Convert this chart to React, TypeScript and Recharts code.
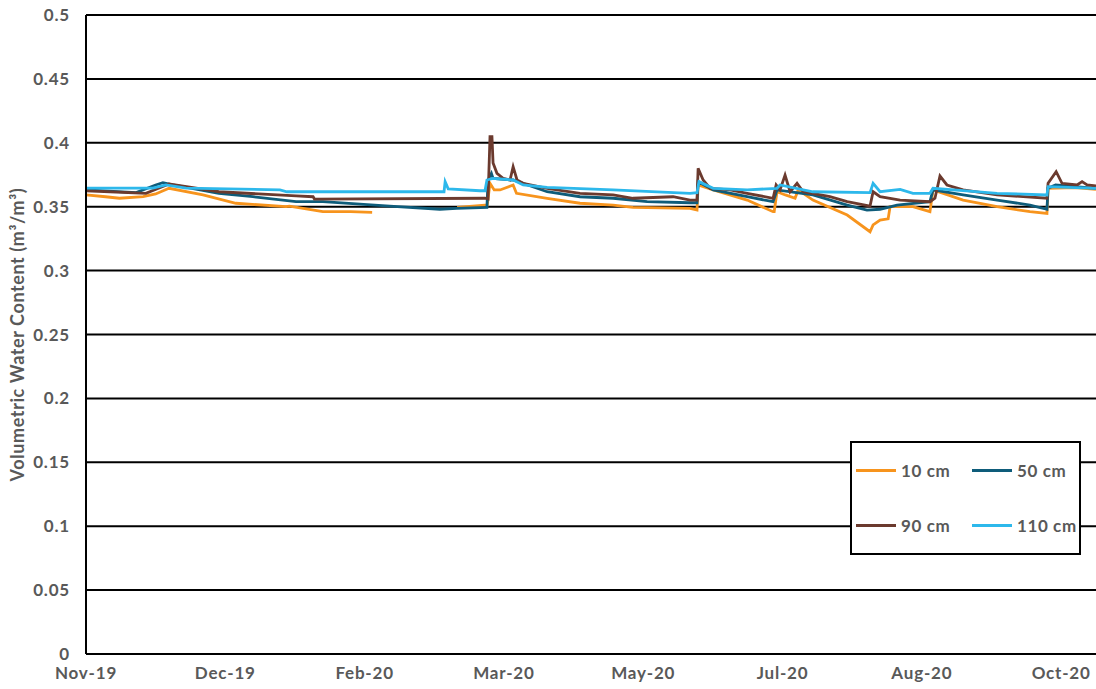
import React from 'react';
import { LineChart, Line, XAxis, YAxis, CartesianGrid, Legend } from 'recharts';

// x = days since 1 Nov 2019
const xTickDays = [0, 50, 100, 150, 200, 250, 300, 350];
const xTickLabels = ['Nov-19', 'Dec-19', 'Feb-20', 'Mar-20', 'May-20', 'Jul-20', 'Aug-20', 'Oct-20'];
const yTicks = [0, 0.05, 0.1, 0.15, 0.2, 0.25, 0.3, 0.35, 0.4, 0.45, 0.5];

const seriesNames = ['10 cm', '50 cm', '90 cm', '110 cm'];
const seriesColors = ['#F7941D', '#0E5C7A', '#6B3A2E', '#2DB8EB'];

const days10 = [0, 7, 12, 20.5, 25, 29.8, 42, 53.8, 71.8, 73, 85, 95, 102.7, 118, 133.2, 143.2, 144, 145, 146.5, 148.6, 153.3, 154.5, 165.5, 177.3, 189.2, 196.3, 216.8, 219.3, 219.7, 225.1, 237.3, 246.6, 247, 248, 251, 254.5, 255.6, 260.9, 273.2, 281.4, 282.5, 285, 287.9, 288.6, 296.8, 302.9, 304, 314.8, 327, 338.8, 344.9, 345.3, 355, 362.5];
const vals10 = [0.3592, 0.3578, 0.3566, 0.3578, 0.36, 0.3644, 0.3592, 0.3527, 0.35, 0.3505, 0.3461, 0.3461, 0.3456, null, 0.3495, 0.3513, 0.3513, 0.3683, 0.3631, 0.3631, 0.367, 0.3605, 0.3566, 0.3527, 0.3513, 0.3495, 0.3487, 0.3474, 0.367, 0.3631, 0.3552, 0.3461, 0.3461, 0.3617, 0.3592, 0.3566, 0.3631, 0.3552, 0.3435, 0.3304, 0.3357, 0.3396, 0.3405, 0.35, 0.35, 0.3461, 0.3631, 0.3552, 0.35, 0.3461, 0.3448, 0.3644, 0.365, 0.3636];

const days50 = [0, 18, 25, 27.6, 31.2, 47.7, 59.9, 75.4, 85, 109, 127, 133, 143.9, 144.3, 145.5, 146.1, 153.3, 165.5, 177.3, 189.2, 201.4, 216.8, 219.3, 219.7, 225.1, 237.3, 246.6, 248, 255, 260.9, 273.2, 280.3, 285, 291.1, 302.9, 304, 314.8, 327, 338.8, 344.9, 345.3, 348, 362.5];
const vals50 = [0.3631, 0.361, 0.367, 0.3688, 0.367, 0.3605, 0.3578, 0.3539, 0.3539, 0.3505, 0.348, 0.3487, 0.3495, 0.3709, 0.3761, 0.3722, 0.3709, 0.3617, 0.3578, 0.3566, 0.3539, 0.3531, 0.3531, 0.3696, 0.3631, 0.3578, 0.3539, 0.3631, 0.361, 0.3592, 0.3513, 0.3474, 0.348, 0.3513, 0.3539, 0.3631, 0.3592, 0.3552, 0.3513, 0.348, 0.3644, 0.367, 0.3644];

const days90 = [0, 21.5, 29.8, 47.7, 75.4, 81.5, 82, 143.2, 144.3, 145, 145.7, 146.1, 147.5, 149.7, 152.2, 153.3, 154.7, 156.9, 165.5, 177.3, 189.2, 196.3, 210.7, 216.8, 219.3, 219.7, 221.5, 224, 231.2, 237.3, 246.6, 247.7, 249.1, 250.9, 252.7, 255.2, 257.4, 267, 273.2, 281.4, 282.5, 285, 292.2, 302.9, 304.7, 306.5, 309, 314.8, 327, 344.9, 345.3, 348.2, 350.3, 355.7, 357.5, 359.3, 362.5];
const vals90 = [0.3625, 0.3605, 0.3678, 0.3617, 0.3584, 0.3578, 0.356, 0.3566, 0.356, 0.4048, 0.4048, 0.3842, 0.3761, 0.3722, 0.3709, 0.3813, 0.3709, 0.3683, 0.3644, 0.3605, 0.3592, 0.3566, 0.3578, 0.3552, 0.3552, 0.38, 0.3709, 0.3644, 0.3631, 0.3605, 0.3566, 0.367, 0.3631, 0.3748, 0.3617, 0.3683, 0.3617, 0.3578, 0.3539, 0.3505, 0.3617, 0.3578, 0.3552, 0.3539, 0.3566, 0.374, 0.367, 0.3631, 0.3592, 0.3566, 0.3683, 0.3774, 0.3683, 0.367, 0.3696, 0.367, 0.3662];

const days110 = [0, 24, 28.7, 35.9, 69.6, 72.1, 128.5, 128.9, 130, 141.4, 143.2, 143.9, 146, 153.3, 156.9, 165.5, 189.2, 216.8, 219.3, 220, 225.1, 237.3, 248, 249.1, 260.9, 281.4, 282.5, 285, 292.2, 296.8, 302.9, 304, 314.8, 327, 344.9, 345.3, 362.5];
const vals110 = [0.3646, 0.3646, 0.367, 0.3646, 0.3631, 0.3617, 0.3617, 0.3696, 0.364, 0.3625, 0.3625, 0.3709, 0.3722, 0.3709, 0.367, 0.3652, 0.3631, 0.3605, 0.361, 0.3696, 0.3644, 0.3631, 0.3644, 0.367, 0.3617, 0.361, 0.3683, 0.3617, 0.3636, 0.3605, 0.3605, 0.3644, 0.3625, 0.3605, 0.3592, 0.3657, 0.3644];

const build = (days: number[], vals: (number | null)[]) => days.map((d, i) => ({ d, v: vals[i] }));
const seriesData = [build(days10, vals10), build(days50, vals50), build(days90, vals90), build(days110, vals110)];

const FONT = 'Lato, "Open Sans", sans-serif';
const GRAY = '#595959';

const LegendBox = (props: any) => {
  const payload = [...(props.payload || [])].sort(
    (a: any, b: any) => seriesNames.indexOf(a.value) - seriesNames.indexOf(b.value)
  );
  return (
    <div
      style={{
        width: 231,
        height: 114,
        boxSizing: 'border-box',
        border: '2px solid #000',
        background: '#fff',
        display: 'grid',
        gridTemplateColumns: '116px 111px',
        gridTemplateRows: '54px 56px',
        fontFamily: FONT,
        fontWeight: 700,
        fontSize: 17,
        letterSpacing: 0.6,
        color: GRAY,
      }}
    >
      {payload.map((p: any, i: number) => (
        <div key={i} style={{ display: 'flex', alignItems: 'center', paddingLeft: 4 }}>
          <span style={{ display: 'inline-block', width: 40, height: 3, background: p.color, marginRight: 5 }} />
          <span style={{ whiteSpace: 'nowrap' }}>{p.value}</span>
        </div>
      ))}
    </div>
  );
};

export default function App() {
  return (
    <div style={{ position: 'absolute', left: 0, top: 0, width: 1096, height: 689, background: '#fff' }}>
      <LineChart width={1096} height={689} margin={{ top: 15, right: 0, bottom: 0, left: 0 }}>
        <CartesianGrid horizontal={true} vertical={false} stroke="#000" strokeWidth={2} />
        <XAxis
          type="number"
          dataKey="d"
          domain={[0, 362.5]}
          ticks={xTickDays}
          tickFormatter={(v: number) => xTickLabels[xTickDays.indexOf(v)]}
          height={35}
          tickLine={false}
          axisLine={{ stroke: '#000', strokeWidth: 2 }}
          tick={{ fill: GRAY, fontFamily: FONT, fontWeight: 700, fontSize: 17, letterSpacing: 0.8 }}
          tickMargin={7}
          allowDataOverflow
        />
        <YAxis
          type="number"
          domain={[0, 0.5]}
          ticks={yTicks}
          width={86}
          tickLine={false}
          axisLine={{ stroke: '#000', strokeWidth: 2 }}
          tick={{ fill: GRAY, fontFamily: FONT, fontWeight: 700, fontSize: 17, letterSpacing: 0.8 }}
          tickMargin={10}
          label={{
            value: 'Volumetric Water Content (m³/m³)',
            angle: -90,
            position: 'insideLeft',
            offset: 18,
            style: { fill: GRAY, fontFamily: FONT, fontWeight: 700, fontSize: 18, letterSpacing: 0.6, textAnchor: 'middle' },
          }}
        />
        <Legend
          content={<LegendBox />}
          wrapperStyle={{ position: 'absolute', left: 850, top: 441, width: 0, height: 0, overflow: 'visible' }}
        />
        {seriesData.map((data, i) => (
          <Line
            key={seriesNames[i]}
            data={data}
            dataKey="v"
            name={seriesNames[i]}
            stroke={seriesColors[i]}
            strokeWidth={2.8}
            dot={false}
            activeDot={false}
            type="linear"
            isAnimationActive={false}
            connectNulls={false}
          />
        ))}
      </LineChart>
    </div>
  );
}
